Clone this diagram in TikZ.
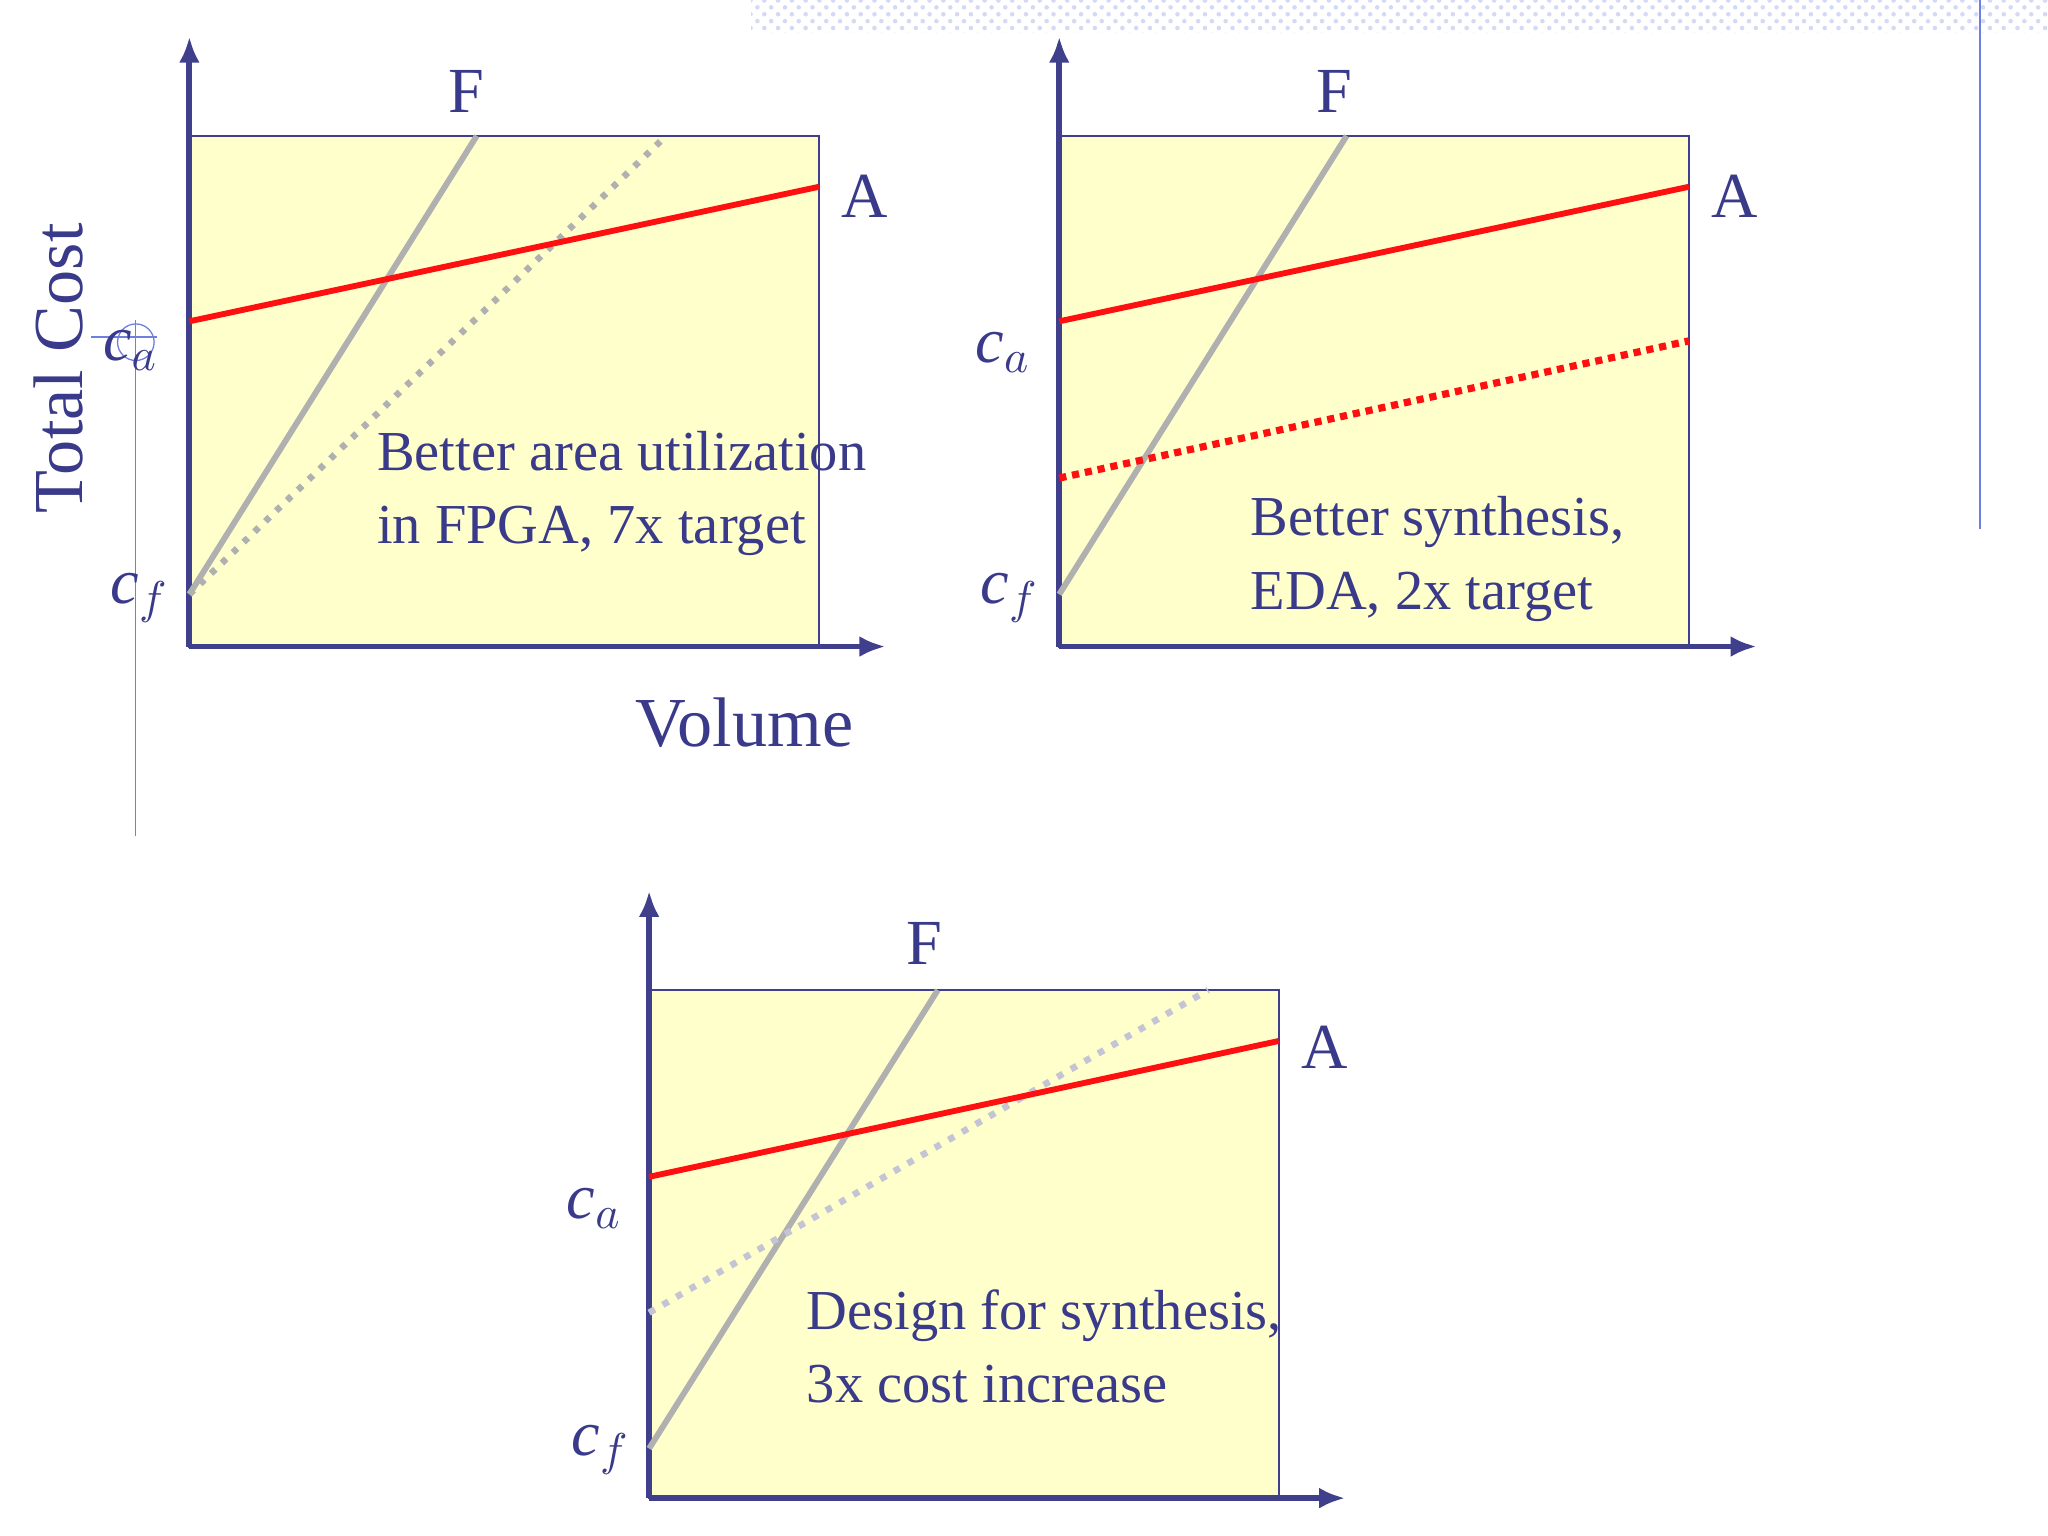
\documentclass[tikz,border=0pt]{standalone}
\usepackage{fontspec}
\setmainfont{Liberation Serif}
\usetikzlibrary{patterns,arrows.meta}
\definecolor{ax}{HTML}{3F3F8C}
\definecolor{tx}{HTML}{3A3A8A}
\definecolor{fill}{HTML}{FFFFCC}
\definecolor{gr}{HTML}{B0B0B0}
\definecolor{rd}{HTML}{FF1010}
\definecolor{thinc}{HTML}{6F7FE0}
\tikzset{
 box/.style={draw=ax,line width=0.15mm,fill=fill},
 axis/.style={draw=ax,line width=0.45mm,-{Latex[length=2mm,width=1.6mm]}},
 redl/.style={draw=rd,line width=0.45mm},
 grl/.style={draw=gr,line width=0.45mm},
 guide/.style={draw=thinc,line width=0.1mm},
 lab/.style={text=tx,font=\fontsize{14}{14}\selectfont,inner sep=0},
 big/.style={text=tx,font=\fontsize{15.3}{15.3}\selectfont,inner sep=0},
 txt/.style={text=tx,font=\fontsize{12.3}{16}\selectfont,align=left,anchor=west,inner sep=0},
 cl/.style={text=tx,font=\fontsize{14}{14}\selectfont\itshape,inner sep=0}
}
\begin{document}
\begin{tikzpicture}[x=0.1mm,y=-0.1mm]
\useasboundingbox (0,0) rectangle (1568,1176);
\fill[pattern=crosshatch dots,pattern color=thinc!30] (575,0) rectangle (1568,25);
\draw[guide] (1516,0) -- (1516,405);
\draw[guide] (104,245) -- (104,640);
\draw[guide] (70,258) -- (120,258);
\draw[guide] (104,262) circle (14);
% panel 1
\draw[box] (145,104) rectangle (627,495);
\coordinate (o1) at (145,495);
\coordinate (t1) at (145,28); \coordinate (r1) at (678,495);
\draw[axis] (o1) -- (t1); \draw[axis] (o1) -- (r1);
\coordinate (a1s) at (145,246); \coordinate (a1e) at (627,143);
\coordinate (f1s) at (145,455); \coordinate (f1e) at (365,104); \coordinate (f1d) at (510,104);
\draw[grl] (f1s) -- (f1e);
\draw[grl,dotted,line width=0.5mm] (f1s) -- (f1d);
\draw[redl] (a1s) -- (a1e);
\node[lab] (F1) at (357,70) {F};
\node[lab] (A1) at (662,150) {A};
\node[cl] (ca1) at (100,268) {c$_a$};
\node[cl] (cf1) at (107,458) {c$_f$};
\node[txt] (t1a) at (288,378) {Better area utilization\\in FPGA, 7x target};
\node[big,rotate=90] (tc) at (45,282) {Total Cost};
\node[big] (vol) at (570,553) {Volume};
% panel 2
\draw[box] (811,104) rectangle (1293,495);
\coordinate (o2) at (811,495);
\coordinate (t2) at (811,28); \coordinate (r2) at (1345,495);
\draw[axis] (o2) -- (t2); \draw[axis] (o2) -- (r2);
\coordinate (a2s) at (811,246); \coordinate (a2e) at (1293,143);
\coordinate (d2s) at (811,366); \coordinate (d2e) at (1293,261);
\coordinate (f2s) at (811,455); \coordinate (f2e) at (1031,104);
\draw[grl] (f2s) -- (f2e);
\draw[redl] (a2s) -- (a2e);
\draw[redl,dash pattern=on 0.55mm off 0.45mm,line width=0.55mm] (d2s) -- (d2e);
\node[lab] (F2) at (1022,70) {F};
\node[lab] (A2) at (1328,150) {A};
\node[cl] (ca2) at (768,270) {c$_a$};
\node[cl] (cf2) at (773,458) {c$_f$};
\node[txt] (t2a) at (957,428) {Better synthesis,\\EDA, 2x target};
% panel 3
\draw[box] (497,758) rectangle (979,1147);
\coordinate (o3) at (497,1147);
\coordinate (t3) at (497,682); \coordinate (r3) at (1030,1147);
\draw[axis] (o3) -- (t3); \draw[axis] (o3) -- (r3);
\coordinate (a3s) at (497,901); \coordinate (a3e) at (979,797);
\coordinate (f3s) at (497,1109); \coordinate (f3e) at (718,758);
\coordinate (b3s) at (497,1005); \coordinate (b3e) at (925,758);
\draw[grl] (f3s) -- (f3e);
\draw[draw=blue!15!gray!40,dotted,line width=0.5mm] (b3s) -- (b3e);
\draw[redl] (a3s) -- (a3e);
\node[lab] (F3) at (708,722) {F};
\node[lab] (A3) at (1014,802) {A};
\node[cl] (ca3) at (455,925) {c$_a$};
\node[cl] (cf3) at (460,1110) {c$_f$};
\node[txt] (t3a) at (617,1031) {Design for synthesis,\\3x cost increase};
\end{tikzpicture}
\end{document}
